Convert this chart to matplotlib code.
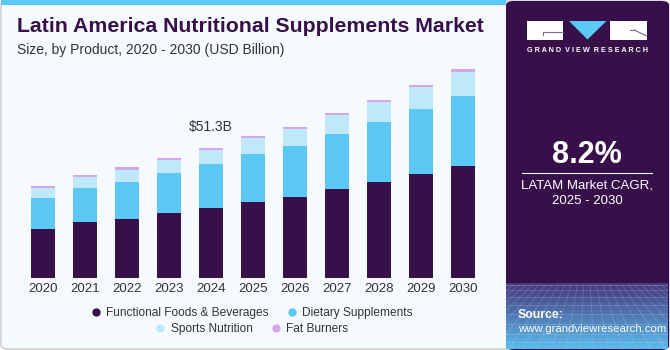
import matplotlib
matplotlib.use("Agg")
import matplotlib.pyplot as plt
import numpy as np
from matplotlib.patches import Rectangle, FancyBboxPatch, Polygon
from matplotlib.lines import Line2D

# values in USD Billion
years = ["2020", "2021", "2022", "2023", "2024", "2025", "2026", "2027", "2028", "2029", "2030"]
functional = [19.3, 21.9, 23.3, 25.5, 27.6, 29.9, 32.0, 34.9, 37.6, 40.7, 44.0]
dietary = [12.3, 13.6, 14.5, 15.8, 17.1, 18.7, 19.8, 21.8, 23.6, 25.6, 27.5]
sports = [3.9, 4.3, 4.8, 5.2, 5.7, 6.3, 6.7, 7.3, 7.7, 8.5, 9.4]
fat_burners = [0.8, 0.7, 0.8, 0.8, 0.8, 0.8, 0.8, 0.8, 0.9, 0.9, 0.9]
series_names = ["Functional Foods & Beverages", "Dietary Supplements", "Sports Nutrition", "Fat Burners"]
colors = ["#37104a", "#5bc8f5", "#bfe9fa", "#d4a6ec"]
highlight_label = "$51.3B"
highlight_idx = 4

plt.rcParams["font.family"] = ["Liberation Sans", "DejaVu Sans"]

W, H = 670, 350
fig = plt.figure(figsize=(W / 100, H / 100), dpi=100)
fig.patch.set_facecolor("white")


def fx(x):
    return x / W


def fy(y):
    return 1 - y / H


# card background + border
fig.patches.append(FancyBboxPatch((1 / W, 1 / H), (W - 2) / W, (H - 2) / H,
                                  boxstyle="round,pad=0,rounding_size=0.012",
                                  transform=fig.transFigure, facecolor="#f5fafd",
                                  edgecolor="#c8c8c8", linewidth=1.0, zorder=-5))
# top blue strip
fig.patches.append(Rectangle((1 / W, 1 - 5 / H), 505 / W, 5 / H, transform=fig.transFigure,
                             facecolor="#5bc8f5", edgecolor="none", zorder=-4))

# right panel
px0 = 506 / W
fig.patches.append(FancyBboxPatch((px0, 0), 1 - px0 - 1 / W, 1 - 1 / H,
                                  boxstyle="round,pad=0,rounding_size=0.012",
                                  transform=fig.transFigure, facecolor="#37104a",
                                  edgecolor="none", zorder=-3))

# gradient at bottom of panel
gax = fig.add_axes([px0, 1 / H, 1 - px0 - 2 / W, 66 / H])
gax.set_zorder(1)
grad = np.linspace(0, 1, 100).reshape(-1, 1)
c_top = np.array([0x46, 0x36, 0x7c]) / 255
c_bot = np.array([0x5b, 0xbc, 0xee]) / 255
img = c_bot[None, None, :] * (1 - grad[:, :, None]) + c_top[None, None, :] * grad[:, :, None]
gax.imshow(img, aspect="auto", extent=[0, 1, 0, 1], origin="lower")
for yy in [0.1, 0.23, 0.38, 0.53, 0.67, 0.79, 0.89]:
    gax.axhline(yy, color="white", alpha=0.18, lw=0.6)
for xx in np.linspace(-0.6, 1.6, 26):
    gax.plot([xx, 0.5 + (xx - 0.5) * 0.45], [0, 0.97], color="white", alpha=0.16, lw=0.6)
gax.axhline(0.97, color="white", alpha=0.22, lw=0.8)
gax.set_xlim(0, 1)
gax.set_ylim(0, 1)
gax.axis("off")

# logo
fig.patches.append(Rectangle((fx(527), fy(40)), 36 / W, 19 / H, transform=fig.transFigure,
                             facecolor="white", edgecolor="none", zorder=3))
fig.lines.append(Line2D([fx(543), fx(563)], [fy(31.5), fy(31.5)], transform=fig.transFigure,
                        color="#7a6a8a", lw=0.8, zorder=4))
fig.lines.append(Line2D([fx(543), fx(543)], [fy(31.5), fy(35)], transform=fig.transFigure,
                        color="#7a6a8a", lw=0.8, zorder=4))
fig.patches.append(Polygon([(fx(569), fy(21)), (fx(606.5), fy(21)), (fx(587.5), fy(39.5))],
                           closed=True, transform=fig.transFigure, facecolor="#5bc8f5",
                           edgecolor="none", zorder=3))
fig.patches.append(Rectangle((fx(610), fy(40)), 37 / W, 19 / H, transform=fig.transFigure,
                             facecolor="white", edgecolor="none", zorder=3))
fig.lines.append(Line2D([fx(634), fx(647)], [fy(30), fy(36)], transform=fig.transFigure,
                        color="#7a6a8a", lw=0.8, zorder=4))
fig.lines.append(Line2D([fx(630), fx(634)], [fy(30), fy(30)], transform=fig.transFigure,
                        color="#7a6a8a", lw=0.8, zorder=4))
fig.text(fx(587.5), fy(50.5), "G R A N D  V I E W  R E S E A R C H",
         color="white", fontsize=5.2, fontweight="bold", ha="center", va="center", zorder=5)

# CAGR text
fig.text(fx(587), fy(155), "8.2%", color="white", fontsize=22, fontweight="bold",
         ha="center", va="center")
fig.lines.append(Line2D([fx(522), fx(652)], [fy(173.3), fy(173.3)], transform=fig.transFigure,
                        color="white", lw=0.8))
fig.text(fx(587), fy(185), "LATAM Market CAGR,", color="white", fontsize=9.5,
         ha="center", va="center")
fig.text(fx(587), fy(201), "2025 - 2030", color="white", fontsize=9.5,
         ha="center", va="center")
fig.text(fx(518), fy(315), "Source:", color="white", fontsize=8.8, fontweight="bold",
         ha="left", va="center", zorder=5)
fig.text(fx(518), fy(329.5), "www.grandviewresearch.com", color="white", fontsize=8.2,
         ha="left", va="center", zorder=5)

# titles
fig.text(fx(17), fy(27), "Latin America Nutritional Supplements Market", color="#37104a",
         fontsize=15.3, fontweight="bold", ha="left", va="center")
fig.text(fx(17), fy(50), "Size, by Product, 2020 - 2030 (USD Billion)", color="#333333",
         fontsize=10, ha="left", va="center")

# main chart axes
ax_l, ax_r = 20, 490
ax_b, ax_t = 278.3, 60
ax = fig.add_axes([ax_l / W, 1 - ax_b / H, (ax_r - ax_l) / W, (ax_b - ax_t) / H])
ax.set_zorder(1)
ax.set_facecolor("none")
x = np.arange(len(years))
bottom = np.zeros(len(years))
for vals, col, name in zip([functional, dietary, sports, fat_burners], colors, series_names):
    ax.bar(x, vals, width=0.57, bottom=bottom, color=col, label=name, linewidth=0)
    bottom += np.array(vals)

spacing = 42.0
ax.set_xlim(-(43 - ax_l) / spacing, 10 + (ax_r - 463) / spacing)
ax.set_ylim(0, (ax_b - ax_t) * 51.3 / 131.0)
ax.set_xticks(x)
ax.set_xticklabels(years, fontsize=9.5, color="#333333")
ax.tick_params(axis="x", length=0, pad=3.5)
ax.set_yticks([])
for s in ax.spines.values():
    s.set_visible(False)

ax.annotate(highlight_label, xy=(x[highlight_idx], bottom[highlight_idx]),
            xytext=(0, 10), textcoords="offset points", ha="center", va="bottom",
            fontsize=10, color="#333333")

# legend, two centered rows
handles = [Line2D([], [], marker="o", linestyle="none", markersize=6,
                  markerfacecolor=c, markeredgecolor="none") for c in colors]
for row, ypix in [(slice(0, 2), 312.7), (slice(2, 4), 328.7)]:
    fig.legend(handles[row], series_names[row], loc="center",
               bbox_to_anchor=(252 / W, fy(ypix)), ncol=2, frameon=False,
               fontsize=8.6, handlelength=0.7, handletextpad=0.5,
               columnspacing=1.6, borderpad=0, labelcolor="#333333")

fig.savefig("out.png", dpi=100, facecolor=fig.get_facecolor())
